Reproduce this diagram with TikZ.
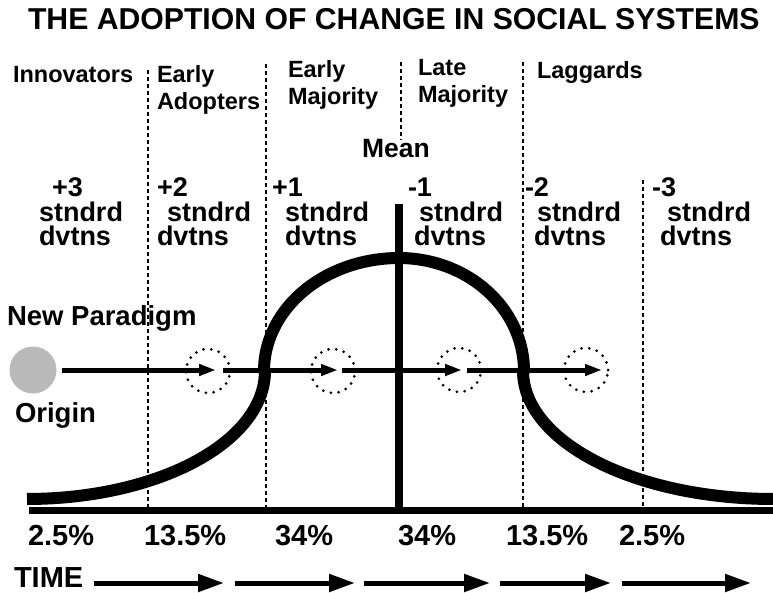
\documentclass[tikz,border=0pt]{standalone}
\usepackage{fontspec}
\setmainfont{Liberation Sans}
\usetikzlibrary{arrows.meta}
\newcommand{\fsz}[1]{\fontsize{#1}{#1}\selectfont}
\begin{document}
\begin{tikzpicture}[x=1pt,y=-1pt,
  lbl/.style={anchor=base west, inner sep=0pt, outer sep=0pt, text depth=0pt},
  titlelbl/.style={lbl, font=\bfseries\fsz{30.2}},
  grouplbl/.style={lbl, font=\bfseries\fsz{23.5}},
  meanlbl/.style={lbl, font=\bfseries\fsz{26.5}},
  sdlbl/.style={lbl, font=\bfseries\fsz{27}, text height=19.5pt},
  pctlbl/.style={lbl, font=\bfseries\fsz{29}},
  sidelbl/.style={lbl, font=\bfseries\fsz{27.5}},
  divider/.style={line width=1.8pt, dash pattern=on 4pt off 3pt},
  curve/.style={line width=12pt, line join=round},
  flow/.style={line width=5pt, -{Triangle[length=17pt,width=11pt]}},
  timearrow/.style={line width=5pt, -{Triangle[length=26pt,width=17pt]}},
  dotcirc/.style={circle, minimum size=44pt, inner sep=0pt, draw, line width=3pt,
                  line cap=round, dash pattern=on 0pt off 7.8pt},
  origin/.style={circle, minimum size=47pt, inner sep=0pt, fill=originfill}
]
\definecolor{originfill}{RGB}{185,185,185}
\useasboundingbox (0,0) rectangle (773,593);

% title
\node[titlelbl] (title) at (28,30) {THE ADOPTION OF CHANGE IN SOCIAL SYSTEMS};

% dividers
\coordinate (d1t) at (148,70);  \coordinate (d1b) at (148,510);
\coordinate (d2t) at (266,64);  \coordinate (d2b) at (266,510);
\coordinate (d3t) at (401,62);  \coordinate (d3b) at (401,140);
\coordinate (d4t) at (523,62);  \coordinate (d4b) at (523,510);
\coordinate (d5t) at (643,180); \coordinate (d5b) at (643,510);
\draw[divider] (d1t) -- (d1b);
\draw[divider] (d2t) -- (d2b);
\draw[divider] (d3t) -- (d3b);
\draw[divider] (d4t) -- (d4b);
\draw[divider] (d5t) -- (d5b);

% group labels
\node[grouplbl] (inn) at (13,83) {Innovators};
\node[grouplbl] (ea1) at (157,83) {Early};
\node[grouplbl] (ea2) at (157,110) {Adopters};
\node[grouplbl] (em1) at (288,78) {Early};
\node[grouplbl] (em2) at (288,105) {Majority};
\node[grouplbl] (lm1) at (418,76) {Late};
\node[grouplbl] (lm2) at (418,103) {Majority};
\node[grouplbl] (lag) at (537,79) {Laggards};
\node[meanlbl] (mean) at (362,158) {Mean};

% standard deviation labels
\node[sdlbl] (s1a) at (52,197) {+3};
\node[sdlbl] (s1b) at (39,222) {stndrd};
\node[sdlbl] (s1c) at (39,246) {dvtns};
\node[sdlbl] (s2a) at (157,197) {+2};
\node[sdlbl] (s2b) at (167,222) {stndrd};
\node[sdlbl] (s2c) at (157,246) {dvtns};
\node[sdlbl] (s3a) at (272,197) {+1};
\node[sdlbl] (s3b) at (285,222) {stndrd};
\node[sdlbl] (s3c) at (285,246) {dvtns};
\node[sdlbl] (s4a) at (408,197) {-1};
\node[sdlbl] (s4b) at (419,222) {stndrd};
\node[sdlbl] (s4c) at (414,246) {dvtns};
\node[sdlbl] (s5a) at (525,197) {-2};
\node[sdlbl] (s5b) at (537,222) {stndrd};
\node[sdlbl] (s5c) at (534,246) {dvtns};
\node[sdlbl] (s6a) at (652,197) {-3};
\node[sdlbl] (s6b) at (667,222) {stndrd};
\node[sdlbl] (s6c) at (660,246) {dvtns};

% mean line and baseline
\coordinate (mtop) at (399,204); \coordinate (mbot) at (399,510);
\draw[line width=8pt] (mtop) -- (mbot);
\coordinate (bl) at (29,510); \coordinate (br) at (773,510);
\draw[line width=7pt] (bl) -- (br);

% bell curve
\draw[curve]
  plot[domain=90:0, samples=45] ({27+238*cos(\x)}, {371+128*sin(\x)})
  -- plot[domain=0:90, samples=45] ({399-135*cos(\x)}, {371-113*sin(\x)})
  -- plot[domain=90:0, samples=45] ({399+125*cos(\x)}, {371-113*sin(\x)})
  -- plot[domain=0:90, samples=45] ({773-250*cos(\x)}, {371+128*sin(\x)});

% origin and flow
\node[sidelbl] (np) at (7,325) {New Paradigm};
\node[sidelbl] (orl) at (15,422) {Origin};
\node[origin] (org) at (33,370) {};
\node[dotcirc] (c1) at (208,371) {};
\node[dotcirc] (c2) at (333,371) {};
\node[dotcirc] (c3) at (459,370) {};
\node[dotcirc] (c4) at (586,370) {};
\coordinate (f1s) at (62,370);  \coordinate (f1e) at (216,370);
\coordinate (f2s) at (223,370); \coordinate (f2e) at (338,370);
\coordinate (f3s) at (342,370); \coordinate (f3e) at (462,370);
\coordinate (f4s) at (467,370); \coordinate (f4e) at (602,370);
\draw[flow] (f1s) -- (f1e);
\draw[flow] (f2s) -- (f2e);
\draw[flow] (f3s) -- (f3e);
\draw[flow] (f4s) -- (f4e);

% percentages
\node[pctlbl] (p1) at (28,545) {2.5\%};
\node[pctlbl] (p2) at (144,545) {13.5\%};
\node[pctlbl] (p3) at (275,545) {34\%};
\node[pctlbl] (p4) at (398,545) {34\%};
\node[pctlbl] (p5) at (506,545) {13.5\%};
\node[pctlbl] (p6) at (619,545) {2.5\%};

% time
\node[pctlbl] (time) at (14,587) {TIME};
\coordinate (t1s) at (94,583);  \coordinate (t1e) at (224,583);
\coordinate (t2s) at (235,583); \coordinate (t2e) at (355,583);
\coordinate (t3s) at (364,583); \coordinate (t3e) at (490,583);
\coordinate (t4s) at (500,583); \coordinate (t4e) at (611,583);
\coordinate (t5s) at (622,583); \coordinate (t5e) at (751,583);
\draw[timearrow] (t1s) -- (t1e);
\draw[timearrow] (t2s) -- (t2e);
\draw[timearrow] (t3s) -- (t3e);
\draw[timearrow] (t4s) -- (t4e);
\draw[timearrow] (t5s) -- (t5e);
\end{tikzpicture}
\end{document}
